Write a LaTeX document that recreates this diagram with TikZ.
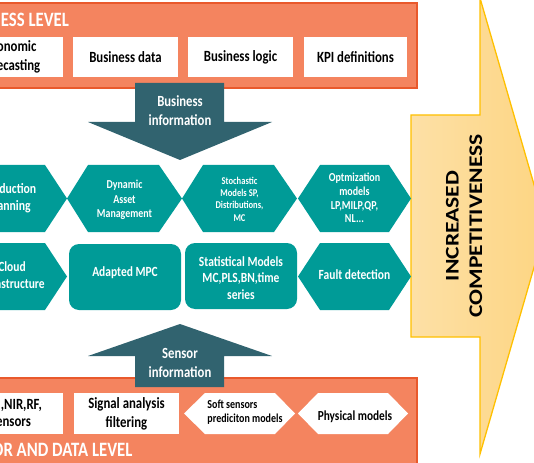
\documentclass[tikz,border=0pt]{standalone}
\usepackage{fontspec}
\setmainfont{Carlito}
\newfontfamily\cf[FakeStretch=0.82]{Carlito}
\newfontfamily\cfr[FakeStretch=1.22]{Carlito}
\definecolor{bandfill}{HTML}{F4845F}
\definecolor{bandline}{HTML}{E9592C}
\definecolor{tealc}{HTML}{009B97}
\definecolor{darkarr}{HTML}{31636F}
\definecolor{yelA}{HTML}{FDE0A6}
\definecolor{yelB}{HTML}{FDD582}
\definecolor{yelline}{HTML}{FFC000}
\begin{document}
\begin{tikzpicture}[x=1pt,y=-1pt,
  band/.style={fill=bandfill,draw=bandline,line width=1.5pt},
  wbox/.style={fill=white},
  tealshape/.style={fill=tealc},
  darrow/.style={fill=darkarr},
  boxtxt/.style={text=black,align=center,inner sep=0pt,font=\cf\bfseries\fontsize{15.6}{18.7}\selectfont},
  title/.style={text=white,inner sep=0pt,font=\cf\bfseries\fontsize{20.4}{24}\selectfont},
  arrtxt/.style={text=white,align=center,inner sep=0pt,font=\cf\bfseries\fontsize{15.5}{18.8}\selectfont},
  tt/.style={text=white,align=center,inner sep=0pt},
]
\useasboundingbox (0,0) rectangle (534,462);
\clip (0,0) rectangle (534,462);

% big yellow arrow
\path[left color=yelA,right color=yelB,draw=yelline,line width=1.3pt]
  (411,115) -- (480,115) -- (480,-2) -- (546,226) -- (480,454) -- (480,337) -- (411,337) -- cycle;
\node[rotate=90,text=black,align=center,inner sep=0pt,font=\cfr\bfseries\fontsize{19.3}{23.5}\selectfont]
  (comp) at (464,226) {INCREASED\\COMPETITIVENESS};

% top band
\draw[band] (-10,3) rectangle (417,88);
\fill[wbox] (-45,37) rectangle (63,77);
\fill[wbox] (73,37) rectangle (178,77);
\fill[wbox] (188,37) rectangle (293,77);
\fill[wbox] (304,37) rectangle (407,77);
\node[title,anchor=base west] (bl) at (-43,27) {BUSINESS LEVEL};
\node[boxtxt] (t1) at (11,57) {Economic\\forecasting};
\node[boxtxt] (t2) at (125.5,57) {Business data};
\node[boxtxt] (t3) at (240.5,57) {Business logic};
\node[boxtxt] (t4) at (355.5,57) {KPI definitions};

% bottom band
\draw[band] (-10,378) rectangle (417,475);
\fill[wbox] (-45,393) rectangle (63,434);
\fill[wbox] (74,393) rectangle (179,434);
\fill[wbox] (184,413.5) -- (205,393) -- (275,393) -- (295,413.5) -- (275,434) -- (205,434) -- cycle;
\fill[wbox] (298,413.5) -- (318,393) -- (388,393) -- (408,413.5) -- (388,434) -- (318,434) -- cycle;
\node[title,anchor=base west] (sl) at (-43,456) {SENSOR AND DATA LEVEL};
\node[boxtxt,anchor=east] (b1a) at (42,405) {M,NIR,RF,};
\node[boxtxt] (b1b) at (11,423) {sensors};
\node[boxtxt] (b2) at (126.5,414) {Signal analysis\\filtering};
\node[boxtxt,align=left,font=\cf\bfseries\fontsize{12.2}{14.4}\selectfont] (b3) at (245,412) {Soft sensors\\prediciton models};
\node[boxtxt,font=\cf\bfseries\fontsize{13.8}{16.5}\selectfont] (b4) at (355,417) {Physical models};

% dark arrows
\fill[darrow] (135,83) -- (224,83) -- (224,122) -- (272,122) -- (180,160) -- (88,122) -- (135,122) -- cycle;
\node[arrtxt] (binfo) at (180,111) {Business\\information};
\fill[darrow] (180,324) -- (272,356) -- (224,356) -- (224,387) -- (135,387) -- (135,356) -- (88,356) -- cycle;
\node[arrtxt] (sinfo) at (180,363) {Sensor\\information};

% teal row 1
\fill[tealshape] (-48,198.5) -- (-26,165) -- (45,165) -- (67,198.5) -- (45,232) -- (-26,232) -- cycle;
\fill[tealshape] (67,198.5) -- (88,165) -- (159,165) -- (182,198.5) -- (159,232) -- (88,232) -- cycle;
\fill[tealshape] (182,198.5) -- (203,165) -- (274,165) -- (297,198.5) -- (274,232) -- (203,232) -- cycle;
\fill[tealshape] (298,198.5) -- (320,165) -- (389,165) -- (411,198.5) -- (389,232) -- (320,232) -- cycle;
\node[tt,font=\cf\bfseries\fontsize{14.3}{17}\selectfont] (h1) at (9.5,198) {Production\\planning};
\node[tt,font=\cf\bfseries\fontsize{12.1}{14.4}\selectfont] (h2) at (124.5,200) {Dynamic\\Asset\\Management};
\node[tt,font=\cf\bfseries\fontsize{10.4}{12.4}\selectfont] (h3) at (239.5,199) {Stochastic\\Models SP,\\Distributions,\\MC};
\node[tt,font=\cf\bfseries\fontsize{12.2}{13.8}\selectfont] (h4) at (354.5,198) {Optmization\\models\\LP,MILP,QP,\\NL...};

% teal row 2
\fill[tealshape] (-48,276.5) -- (-26,243) -- (45,243) -- (67,276.5) -- (45,310) -- (-26,310) -- cycle;
\fill[tealshape,rounded corners=10pt] (69,244) rectangle (181,310);
\fill[tealshape,rounded corners=10pt] (185,243) rectangle (297,309);
\fill[tealshape] (298,276.5) -- (320,243) -- (389,243) -- (411,276.5) -- (389,310) -- (320,310) -- cycle;
\node[tt,font=\cf\bfseries\fontsize{14}{16.5}\selectfont] (r1) at (12,275) {Cloud\\infrastructure};
\node[tt,font=\cf\bfseries\fontsize{14}{16.5}\selectfont] (r2) at (125,273) {Adapted MPC};
\node[tt,font=\cf\bfseries\fontsize{14}{16.8}\selectfont] (r3) at (241,278) {Statistical Models\\MC,PLS,BN,time\\series};
\node[tt,font=\cf\bfseries\fontsize{14}{16.5}\selectfont] (r4) at (354.5,275) {Fault detection};
\end{tikzpicture}
\end{document}
